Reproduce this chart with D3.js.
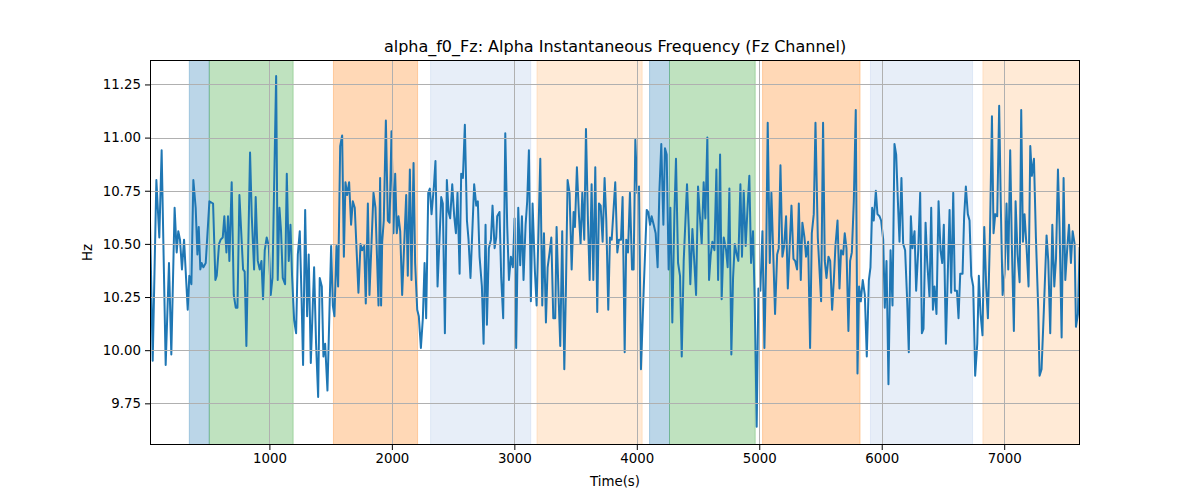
<!DOCTYPE html>
<html>
<head>
<meta charset="utf-8">
<script src="https://cdn.jsdelivr.net/npm/d3@7"></script>
<style>
  html, body { margin: 0; padding: 0; background: #fff; }
  svg text { font-family: "DejaVu Sans", sans-serif; fill: #000; }
</style>
</head>
<body>
<svg id="chart" width="1200" height="500"></svg>
<script>
const chartTitle = "alpha_f0_Fz: Alpha Instantaneous Frequency (Fz Channel)";
const xLabel = "Time(s)";
const yLabel = "Hz";
const xTicks = [1000, 2000, 3000, 4000, 5000, 6000, 7000];
const yTicks = [9.75, 10.00, 10.25, 10.50, 10.75, 11.00, 11.25];
const xDomain = [25, 7619];
const yDomain = [9.554, 11.365];

const spanStart = [346, 509, 1523, 2316, 3185, 4104, 4267, 5027, 5908, 6826];
const spanEnd   = [509, 1194, 2210, 3134, 4044, 4267, 4967, 5823, 6742, 7619];
const spanColor = ["#1f77b4", "#2ca02c", "#ff7f0e", "#aec7e8", "#ffbb78",
                   "#1f77b4", "#2ca02c", "#ff7f0e", "#aec7e8", "#ffbb78"];

const timeS = [
25,47,77,101,120,153,180,199,226,243,256,270,286,303,333,346,363,379,398,412,423,436,447,461,480,510,540,559,570,589,602,619,632,649,662,673,692,709,725,739,755,785,798,812,842,856,875,888,905,921,935,948,962,
978,995,1011,1025,1055,1068,1082,1095,1109,1128,1142,1158,1172,1185,1202,1218,1232,1248,1262,1275,1292,1308,1321,1338,1365,1381,1398,1411,1428,1441,1455,1474,1504,1518,1531,1548,1561,1578,1594,1608,1621,1635,1651,1667,1681,1697,1727,1744,1757,1774,1787,1804,1817,1850,1866,1891,1904,
1912,1921,1934,1951,1967,1981,1997,2013,2027,2040,2054,2068,2084,2117,2130,2147,2160,2177,2190,2207,2220,2237,2253,2267,2280,2297,2310,2324,2343,2356,2373,2403,2416,2433,2449,2463,2476,2493,2509,2523,2536,2553,2566,2580,2596,2613,2626,2642,2672,2689,2702,2716,2735,2749,2765,2776,2792,2809,2822,2839,2852,
2860,2879,2893,2909,2926,2942,2956,2972,2988,3002,3015,3032,3048,3062,3075,3092,3105,3119,3135,3149,3168,3182,3212,3228,3242,3258,3272,3288,3302,3318,3334,3345,3361,3375,3391,3408,3421,3435,3451,3468,3484,3495,3511,3528,3541,3555,3571,3585,3601,3615,3631,3645,3661,3677,3691,3705,3721,3737,3751,3767,3781,3795,
3824,3841,3854,3871,3884,3901,3914,3928,3944,3961,3974,3988,4004,4018,4034,4056,4081,4094,4108,4121,4138,4154,4170,4184,4200,4217,4230,4244,4260,4274,4290,4307,4320,4337,4353,4367,4383,4410,4424,4437,4454,4470,4484,4500,4514,4530,4546,4560,4576,4590,4604,4617,4634,4650,4664,4680,4693,4710,4729,4742,
4756,4772,4786,4800,4816,4829,4846,4859,4873,4889,4906,4919,4933,4949,4963,4979,4993,5009,5026,5042,5056,5069,5086,5099,5116,5129,5146,5159,5173,5189,5203,5219,5233,5249,5263,5279,5293,5309,5323,5339,5352,5369,5382,5399,5415,5429,5445,5459,5478,5505,5521,5535,5549,5565,5579,5595,5609,5622,5639,5655,5668,5685,5698,
5712,5728,5742,5756,5772,5788,5802,5815,5829,5845,5862,5878,5895,5908,5922,5935,5952,5965,5982,5995,6012,6025,6039,6055,6072,6088,6104,6118,6134,6145,6161,6175,6191,6208,6221,6238,6251,6268,6281,6298,6314,6328,6341,6358,6371,6390,6404,6418,6431,6447,6464,6480,6494,6507,6524,6540,6554,6567,6584,6597,6614,6627,6641,
6660,6673,6687,6703,6717,6731,6747,6763,6780,6793,6807,6823,6837,6853,6867,6883,6900,6913,6927,6943,6959,6973,6987,7003,7019,7033,7049,7063,7079,7093,7109,7126,7139,7153,7166,7183,7199,7213,7226,7243,7259,7278,7289,7305,7324,7346,7360,7376,7393,7409,7423,7439,7452,7469,7485,7499,7515,7529,7545,7559,7575,7586,7602,7616
];

const freqHz = [
10.61,9.95,10.80,10.53,10.94,9.93,10.41,9.98,10.67,10.46,10.56,10.52,10.38,10.52,10.19,10.35,10.31,10.80,10.67,10.45,10.58,10.38,10.41,10.39,10.41,10.70,10.69,10.33,10.35,10.50,10.52,10.53,10.63,10.46,10.63,10.42,10.79,10.26,10.20,10.20,10.73,10.38,10.37,10.02,10.93,10.63,10.38,10.72,10.42,10.38,10.42,10.24,10.47,
10.53,10.49,10.26,10.34,11.29,10.33,10.67,10.56,10.34,10.31,10.83,10.42,10.59,10.35,10.14,10.08,10.45,10.56,10.26,9.93,10.66,10.16,10.45,9.94,10.39,10.03,9.78,10.34,10.30,9.97,10.03,9.81,10.49,10.21,10.16,10.49,10.30,10.96,11.01,10.44,10.79,10.73,10.79,10.59,10.70,10.67,10.27,10.50,10.47,10.49,10.22,10.69,10.26,10.74,10.67,10.21,10.81,
10.21,10.51,10.61,11.08,10.61,10.60,11.03,10.55,10.83,10.55,10.63,10.56,10.26,10.73,10.35,10.85,10.33,10.88,10.41,10.19,10.16,10.01,10.15,10.41,10.15,10.74,10.76,10.64,10.77,10.89,10.30,10.72,10.69,10.08,10.80,10.65,10.62,10.78,10.63,10.55,10.74,10.36,10.83,10.81,11.06,10.61,10.52,10.34,10.78,10.68,10.70,10.44,10.30,10.03,10.59,10.12,10.48,10.52,10.68,10.48,10.53,
10.63,10.65,10.34,10.15,11.02,10.58,10.33,10.44,10.39,10.62,10.01,10.67,10.40,10.63,10.33,10.59,10.70,10.94,10.23,10.69,10.37,10.21,10.90,10.21,10.55,10.13,10.39,10.46,10.53,10.15,10.15,10.58,10.26,10.02,10.56,9.91,10.28,10.80,10.74,10.38,10.65,10.58,10.86,10.63,10.50,10.74,10.52,11.04,10.61,10.33,10.78,10.33,10.86,10.18,10.69,10.68,10.51,10.81,10.61,10.19,10.53,10.52,
10.79,10.46,10.52,10.52,10.72,9.99,10.52,10.46,10.74,10.38,10.38,10.99,10.74,10.77,9.91,10.28,10.66,10.65,10.59,10.63,10.59,10.55,10.39,10.74,10.97,10.59,10.95,10.92,10.38,10.67,10.13,10.64,10.90,10.41,10.35,9.97,10.42,10.78,10.58,10.31,10.57,10.41,10.26,10.77,10.64,10.50,10.79,10.62,11.00,10.33,10.45,10.51,10.47,10.85,10.33,10.92,10.24,10.53,10.47,10.39,
10.76,9.98,10.34,10.50,10.45,10.42,10.78,10.44,10.75,10.49,10.69,10.82,10.41,10.56,10.23,9.64,10.29,10.28,10.56,10.01,10.42,11.07,10.41,10.74,10.42,10.17,10.45,10.48,10.87,10.44,10.49,10.63,10.29,10.50,10.68,10.43,10.42,10.38,10.69,10.33,10.60,10.53,10.44,10.51,10.01,10.55,10.64,11.07,10.53,10.23,11.07,10.42,10.34,10.44,10.42,10.19,10.33,10.49,10.61,10.29,10.47,10.45,10.55,
10.48,10.09,10.42,10.46,10.70,11.13,9.89,10.30,10.23,10.33,10.26,9.97,10.33,10.39,10.67,10.61,10.75,10.64,10.63,10.61,10.52,10.20,10.42,9.84,10.47,10.21,10.97,10.92,10.67,10.51,10.81,10.50,10.47,10.23,9.99,10.63,10.48,10.56,10.28,10.47,10.74,10.08,10.10,10.60,10.42,10.25,10.67,10.19,10.30,10.17,10.70,10.47,10.41,10.59,10.03,10.37,10.66,10.27,10.74,10.28,10.28,10.15,10.36,
10.36,10.63,10.77,10.64,10.61,10.35,10.30,9.88,10.03,10.35,10.17,10.07,10.58,10.30,10.15,10.52,11.10,10.55,10.64,10.63,11.15,10.66,10.26,10.36,10.69,10.38,10.94,10.48,10.09,10.70,10.45,10.32,11.13,10.51,10.64,10.48,10.30,10.96,10.82,10.90,10.53,10.19,9.88,9.91,10.19,10.54,10.42,10.08,10.59,10.30,10.43,10.85,10.58,10.06,10.81,10.33,10.48,10.59,10.41,10.56,10.50,10.11,10.17,10.48
];

const margin = {left: 150, right: 120, top: 60, bottom: 55};
const W = 1200, H = 500;
const svg = d3.select("#chart");

const x = d3.scaleLinear().domain(xDomain).range([margin.left, W - margin.right]);
const y = d3.scaleLinear().domain(yDomain).range([H - margin.bottom, margin.top]);

const spans = spanStart.map((s, i) => ({s, e: spanEnd[i], c: spanColor[i]}));
const clip = svg.append("defs").append("clipPath").attr("id", "clip")
  .append("rect").attr("x", margin.left).attr("y", margin.top)
  .attr("width", W - margin.left - margin.right).attr("height", H - margin.top - margin.bottom);

const plot = svg.append("g").attr("clip-path", "url(#clip)");
plot.selectAll("rect.span").data(spans).join("rect")
  .attr("class", "span")
  .attr("x", d => x(d.s)).attr("width", d => x(d.e) - x(d.s))
  .attr("y", margin.top).attr("height", H - margin.top - margin.bottom)
  .attr("fill", d => d.c).attr("fill-opacity", 0.3)
  .attr("stroke", d => d.c).attr("stroke-opacity", 0.3).attr("stroke-width", 1);

// grid
const grid = svg.append("g");
grid.selectAll("line.gx").data(xTicks).join("line")
  .attr("x1", d => Math.round(x(d)) + 0.5).attr("x2", d => Math.round(x(d)) + 0.5)
  .attr("y1", margin.top).attr("y2", H - margin.bottom)
  .attr("stroke", "#b0b0b0").attr("stroke-width", 1);
grid.selectAll("line.gy").data(yTicks).join("line")
  .attr("y1", d => Math.round(y(d)) + 0.5).attr("y2", d => Math.round(y(d)) + 0.5)
  .attr("x1", margin.left).attr("x2", W - margin.right)
  .attr("stroke", "#b0b0b0").attr("stroke-width", 1);

const pts = timeS.map((t, i) => [t, freqHz[i]]);
plot.append("path").datum(pts)
  .attr("fill", "none").attr("stroke", "#1f77b4").attr("stroke-width", 2)
  .attr("stroke-linejoin", "round").attr("stroke-linecap", "square")
  .attr("d", d3.line().x(d => x(d[0])).y(d => y(d[1])));

// axes
const xAxis = d3.axisBottom(x).tickValues(xTicks).tickFormat(d3.format("d")).tickSizeOuter(0).tickSize(5).tickPadding(4);
const yAxis = d3.axisLeft(y).tickValues(yTicks).tickFormat(d3.format(".2f")).tickSizeOuter(0).tickSize(5).tickPadding(4);
const gx = svg.append("g").attr("transform", `translate(0,${H - margin.bottom})`).call(xAxis);
const gy = svg.append("g").attr("transform", `translate(${margin.left},0)`).call(yAxis);
[gx, gy].forEach(g => {
  g.select(".domain").remove();
  g.selectAll("line").attr("stroke", "#000").attr("stroke-width", 1);
  g.selectAll("text").attr("font-size", "13.33px").attr("font-family", "DejaVu Sans, sans-serif");
});

// frame
svg.append("rect").attr("x", margin.left + 0.5).attr("y", margin.top + 0.5)
  .attr("width", W - margin.left - margin.right - 1).attr("height", H - margin.top - margin.bottom - 1)
  .attr("fill", "none").attr("stroke", "#000").attr("stroke-width", 1);

svg.append("text").attr("x", (margin.left + W - margin.right) / 2).attr("y", 52)
  .attr("text-anchor", "middle").attr("font-size", "16px").text(chartTitle);
svg.append("text").attr("x", (margin.left + W - margin.right) / 2).attr("y", 486)
  .attr("text-anchor", "middle").attr("font-size", "13.33px").text(xLabel);
svg.append("text").attr("transform", `translate(92,${(margin.top + H - margin.bottom) / 2}) rotate(-90)`)
  .attr("text-anchor", "middle").attr("font-size", "13.33px").text(yLabel);
</script>
</body>
</html>
